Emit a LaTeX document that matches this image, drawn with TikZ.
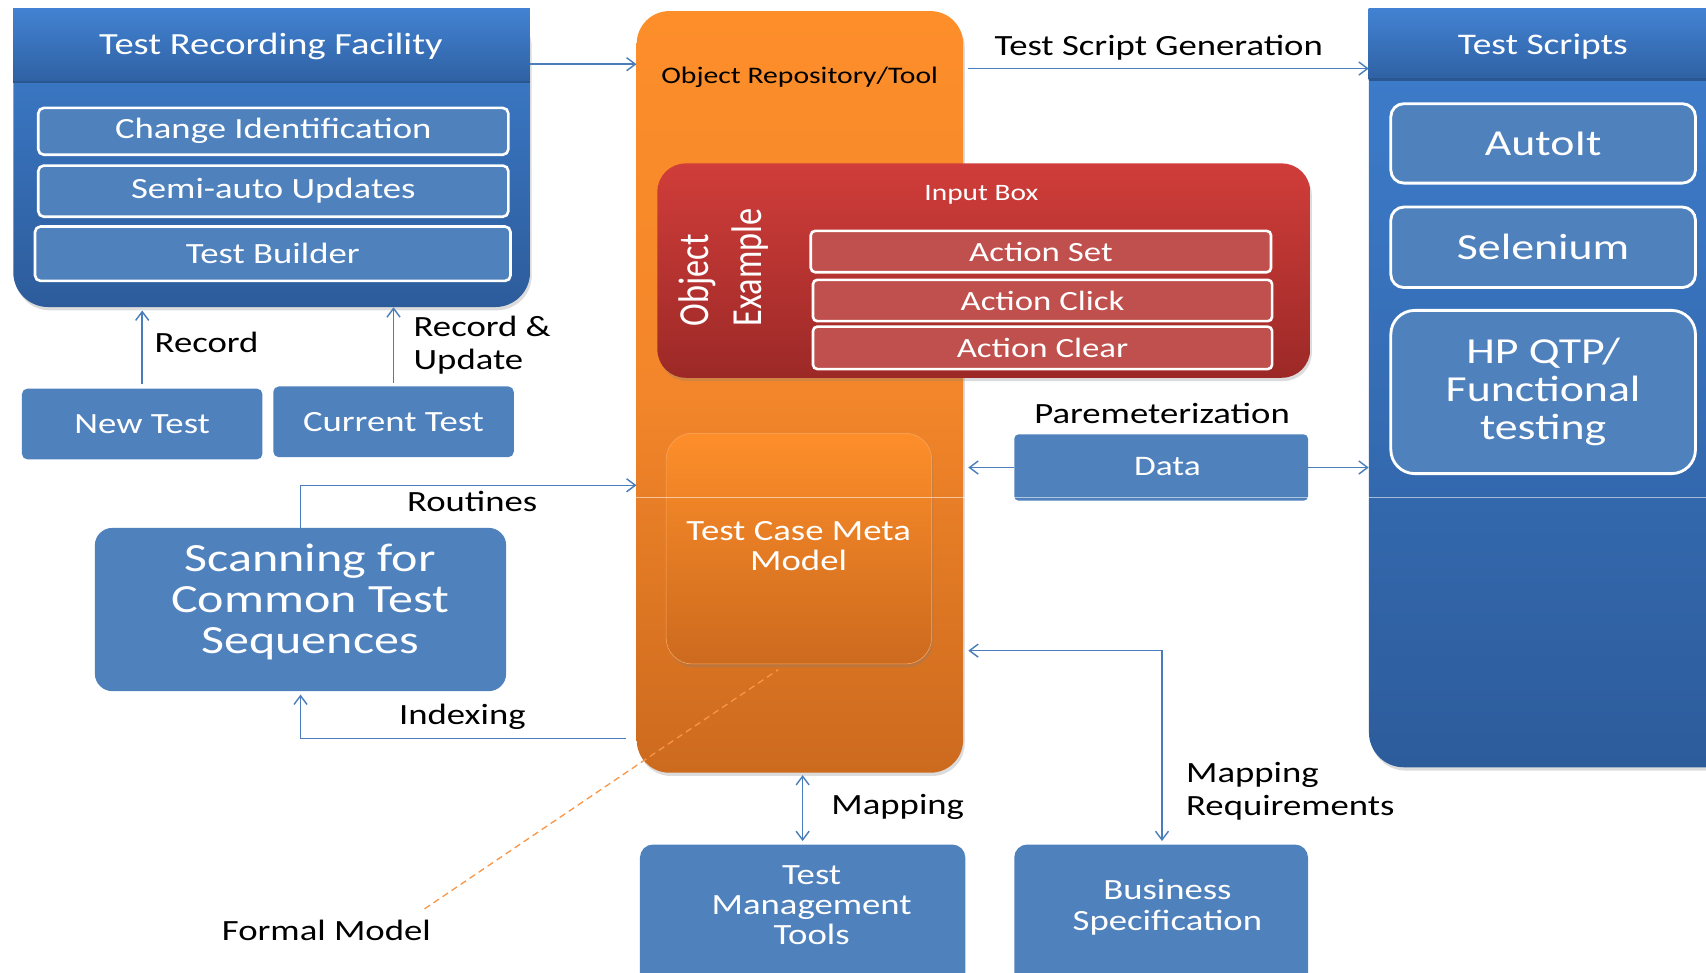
\documentclass[tikz,border=0pt]{standalone}
\usepackage{fontspec}
\setmainfont[FakeStretch=1.25]{Carlito}
\newfontfamily\uprightfont{Carlito}
\usetikzlibrary{arrows.meta,shadows}
\definecolor{boxblue}{HTML}{4F81BD}
\definecolor{linkblue}{HTML}{4A7EBB}
\definecolor{paneltop}{HTML}{3E7ECE}
\definecolor{panelbot}{HTML}{2D5C9B}
\definecolor{headtop}{HTML}{4282D2}
\definecolor{headbot}{HTML}{2F61A3}
\definecolor{headline}{HTML}{2A5792}
\definecolor{ortop}{HTML}{FD8E2A}
\definecolor{ormid}{HTML}{F3862A}
\definecolor{orbot}{HTML}{CC6A1E}
\definecolor{redtop}{HTML}{D03D3A}
\definecolor{redbot}{HTML}{9C2927}
\definecolor{actred}{HTML}{C0504D}
\definecolor{formal}{HTML}{F79646}
\definecolor{tcborder}{HTML}{F9A661}
\begin{document}
\begin{tikzpicture}[x=1pt,y=-1pt,
  softshadow/.style={drop shadow={opacity=0.28, shadow xshift=1.5pt, shadow yshift=-3pt}},
  panel/.style={anchor=north west, inner sep=0pt, rounded corners=32pt,
    top color=paneltop, bottom color=panelbot, softshadow},
  box/.style={anchor=north west, inner sep=0pt, fill=boxblue, text=white, align=center},
  subbox/.style={anchor=north west, inner sep=0pt, fill=boxblue, draw=white,
    line width=2.4pt, rounded corners=5pt, text=white, align=center,
    font=\fontsize{27}{27}\selectfont},
  toolbox/.style={anchor=north west, inner sep=0pt, fill=boxblue, draw=white,
    line width=2.6pt, text=white, align=center, font=\fontsize{33.7}{35}\selectfont},
  actbox/.style={anchor=north west, inner sep=0pt, fill=actred, draw=white,
    line width=2.4pt, rounded corners=4pt, text=white,
    font=\fontsize{25.6}{26}\selectfont},
  boxtext/.style={inner sep=0pt, text=white, align=center},
  lbl/.style={inner sep=0pt, text=black, align=left, font=\fontsize{27}{30.5}\selectfont},
  link/.style={draw=linkblue, line width=1.3pt},
  tip/.tip={Straight Barb[length=8pt,width=12pt]},
  arr/.style={link, -tip},
  dblarr/.style={link, tip-tip},
  fmline/.style={draw=formal, line width=1.2pt, dash pattern=on 6pt off 4pt}
]
\useasboundingbox (0,0) rectangle (1568,894);
\clip (0,0) rectangle (1568,894);

% ---------- Test Recording Facility ----------
\node[panel, minimum width=475pt, minimum height=274pt] (trf) at (12,8) {};
\shade[top color=headtop, bottom color=headbot] (12,8) rectangle (487,75);
\draw[headline, line width=2pt] (12,75) -- (487,75);
\node[boxtext, font=\fontsize{28.3}{28}\selectfont] (trftitle) at (249,42.5) {Test Recording Facility};
\node[subbox, minimum width=432pt, minimum height=43pt] (chid) at (34,98) {Change Identification};
\node[subbox, minimum width=432pt, minimum height=47pt] (semi) at (34,151) {Semi-auto Updates};
\node[subbox, minimum width=437pt, minimum height=50pt] (tbuild) at (31,207) {Test Builder};

% ---------- Test Scripts ----------
\node[panel, minimum width=360pt, minimum height=697pt] (ts) at (1258,8) {};
\shade[top color=headtop, bottom color=headbot] (1258,8) rectangle (1620,73);
\draw[headline, line width=2pt] (1258,73) -- (1620,73);
\node[boxtext, font=\fontsize{27.5}{28}\selectfont] (tstitle) at (1418,42.5) {Test Scripts};
\node[toolbox, rounded corners=12pt, minimum width=280pt, minimum height=73pt] (autoit) at (1277,94) {AutoIt};
\node[toolbox, rounded corners=12pt, minimum width=280pt, minimum height=74pt] (selen) at (1277,189) {Selenium};
\node[toolbox, rounded corners=22pt, minimum width=280pt, minimum height=150pt] (hpqtp) at (1277,284) {HP QTP/\\Functional\\testing};

% ---------- Object Repository ----------
\node[anchor=north west, inner sep=0pt, minimum width=300pt, minimum height=700pt,
  rounded corners=30pt, top color=ortop, bottom color=orbot, middle color=ormid,
  softshadow] (orep) at (585,10) {};
\node[inner sep=0pt, font=\fontsize{21.8}{22}\selectfont] (ortitle) at (735,71) {Object Repository/Tool};

% ---------- Input Box ----------
\node[anchor=north west, inner sep=0pt, minimum width=600pt, minimum height=197pt,
  rounded corners=26pt, top color=redtop, bottom color=redbot, softshadow] (ibox) at (604,150) {};
\node[boxtext, font=\fontsize{21.6}{22}\selectfont] (ibtitle) at (902,179.5) {Input Box};
\node[inner sep=0pt, text=white, rotate=90, anchor=base west,
  font=\uprightfont\fontsize{31.5}{32}\selectfont] (objlbl) at (651,300) {\scalebox{1}[1.25]{Object}};
\node[inner sep=0pt, text=white, rotate=90, anchor=base west,
  font=\uprightfont\fontsize{31.5}{32}\selectfont] (exlbl) at (700,300) {\scalebox{1}[1.25]{Example}};
\node[actbox, minimum width=423pt, minimum height=38pt] (aset) at (744,211) {Action Set};
\node[actbox, minimum width=422pt, minimum height=38pt] (aclick) at (746,256) {Action Click};
\node[actbox, minimum width=422pt, minimum height=39pt] (aclear) at (746,299) {Action Clear};

% ---------- Test Case Meta Model ----------
\node[anchor=north west, inner sep=0pt, minimum width=244pt, minimum height=212pt,
  rounded corners=24pt, top color=ortop, bottom color=orbot, draw=tcborder,
  line width=0.5pt, softshadow] (tcmm) at (612,398) {};
\node[boxtext, font=\fontsize{27}{28}\selectfont] (tcmmtext) at (734,502) {Test Case Meta\\Model};

% ---------- left column ----------
\node[box, rounded corners=5pt, minimum width=221pt, minimum height=65pt,
  font=\fontsize{27}{27}\selectfont] (newt) at (20,357) {New Test};
\node[box, rounded corners=5pt, minimum width=221pt, minimum height=65pt,
  font=\fontsize{27}{27}\selectfont] (curt) at (251,355) {Current Test};
\node[box, rounded corners=16pt, minimum width=378pt, minimum height=150pt] (scan) at (87,485) {};
\node[boxtext, font=\fontsize{36.8}{37.5}\selectfont] (scantext) at (285,553) {Scanning for\\Common Test\\Sequences};

% ---------- right middle / bottom ----------
\node[box, rounded corners=4pt, minimum width=270pt, minimum height=61pt] (data) at (932,399) {};
\node[boxtext, font=\fontsize{26}{26}\selectfont] (datatext) at (1073,428.5) {Data};
\node[box, rounded corners=12pt, minimum width=299pt, minimum height=150pt] (tmt) at (588,776) {};
\node[boxtext, font=\fontsize{27}{27.5}\selectfont] (tmttext) at (746,832) {Test\\Management\\Tools};
\node[box, rounded corners=12pt, minimum width=270pt, minimum height=150pt] (bspec) at (932,776) {};
\node[boxtext, font=\fontsize{27}{29}\selectfont] (bstext) at (1073,834) {Business\\Specification};

% faint light rule across the middle
\draw[white, opacity=0.55, line width=0.9pt] (orep.west |- 0,457) -- (1568,457);

% ---------- connectors ----------
\draw[arr] (trf.east |- 0,59) -- (orep.west |- 0,59);

\coordinate (tsgstart) at (890,63);
\draw[arr] (tsgstart) -- (ts.west |- tsgstart);
\node[lbl] (tsglbl) at (1065,44) {Test Script Generation};

\coordinate (recA) at ([yshift=4pt]newt.north);
\coordinate (recB) at (recA |- trf.south);
\draw[arr] (recA) -- ([yshift=-3pt]recB);
\node[lbl, anchor=west] (reclbl) at (142,315) {Record};

\coordinate (ruA) at ([yshift=3pt]curt.north);
\coordinate (ruB) at (ruA |- trf.south);
\draw[arr] (ruA) -- (ruB);
\node[lbl, anchor=west] (rulbl) at (380,317.5) {Record \&\\Update};

\draw[arr] (scan.north) |- (orep.west |- 0,446);
\node[lbl] (routlbl) at (434,461) {Routines};

\coordinate (idx) at (575,679);
\draw[arr] (idx) -| ([yshift=-3pt]scan.south);
\node[lbl] (idxlbl) at (425,659) {Indexing};

\draw[arr] (data.west) -- (data.west -| 890,0);
\draw[arr] (data.east) -- (ts.west |- data.east);
\node[lbl] (paramlbl) at (1068,380) {Paremeterization};

\coordinate (mrc) at (1068,598);
\draw[dblarr] (mrc -| 890,0) -- (mrc) -- ([yshift=3pt]mrc |- bspec.north);
\node[lbl, anchor=west] (mrlbl) at (1090,727) {Mapping\\Requirements};

\draw[dblarr] ([yshift=-2pt]orep.south -| tmt.north) -- ([yshift=3pt]tmt.north);
\node[lbl, anchor=west] (maplbl) at (764,742) {Mapping};

\node[lbl] (fmlbl) at (300,855) {Formal Model};
\draw[fmline] ([xshift=-6pt,yshift=10pt]fmlbl.north east) -- ([xshift=-19pt,yshift=-5pt]tcmm.south);
\end{tikzpicture}
\end{document}
